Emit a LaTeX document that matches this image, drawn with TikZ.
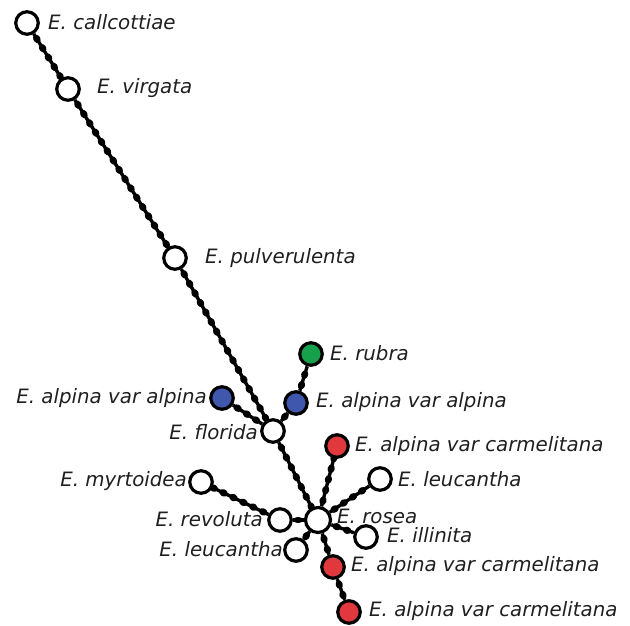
\documentclass[tikz,border=0pt]{standalone}
\usepackage{fontspec}
\setmainfont{DejaVu Sans}
\definecolor{hred}{HTML}{E0383C}
\definecolor{hblue}{HTML}{3F58AE}
\definecolor{hgreen}{HTML}{17A04C}
\begin{document}
\begin{tikzpicture}[x=1pt,y=-1pt,
  hap/.style={circle,draw=black,line width=3.2pt,fill=white,minimum size=22.5pt,inner sep=0pt},
  big/.style={hap,minimum size=25pt},
  lab/.style={font=\fontsize{19.8}{23}\selectfont\itshape,inner sep=0pt,text=black!88},
  link/.style={line width=3.4pt},
  beads/.style={line width=6.8pt,line cap=round,dash pattern=on 1.6pt off 9.4pt,dash phase=-5pt}]
\useasboundingbox (0,0) rectangle (630,625);
% haplotypes
\node[hap] (cal) at (27,23) {};
\node[hap] (vir) at (68,89) {};
\node[hap] (pul) at (175,258) {};
\node[hap,fill=hgreen] (rub) at (311,354) {};
\node[hap,fill=hblue] (alr) at (296,403) {};
\node[hap,fill=hblue] (all) at (222,398) {};
\node[hap] (flo) at (273,431) {};
\node[hap,fill=hred] (car1) at (337,446) {};
\node[hap] (leur) at (380,479) {};
\node[hap] (myr) at (201,482) {};
\node[hap] (rev) at (280,520) {};
\node[big] (ros) at (318,520) {};
\node[hap] (ill) at (366,537) {};
\node[hap] (leul) at (296,550) {};
\node[hap,fill=hred] (car2) at (333,567) {};
\node[hap,fill=hred] (car3) at (349,612) {};
% labels
\node[lab,anchor=west] (tcal) at (48,22) {E. callcottiae};
\node[lab,anchor=west] (tvir) at (97,88) {E. virgata};
\node[lab,anchor=west] (tpul) at (205,258) {E. pulverulenta};
\node[lab,anchor=west] (trub) at (330,353) {E. rubra};
\node[lab,anchor=west] (talr) at (316,402) {E. alpina var alpina};
\node[lab,anchor=east] (tall) at (207,398) {E. alpina var alpina};
\node[lab,anchor=east] (tflo) at (258,432) {E. florida};
\node[lab,anchor=west] (tcar1) at (355,446) {E. alpina var carmelitana};
\node[lab,anchor=west] (tleur) at (398,479) {E. leucantha};
\node[lab,anchor=east] (tmyr) at (187,481) {E. myrtoidea};
\node[lab,anchor=east] (trev) at (263,519) {E. revoluta};
\node[lab,anchor=west] (tros) at (337,516) {E. rosea};
\node[lab,anchor=west] (till) at (387,535) {E. illinita};
\node[lab,anchor=east] (tleul) at (283,549) {E. leucantha};
\node[lab,anchor=west] (tcar2) at (351,566) {E. alpina var carmelitana};
\node[lab,anchor=west] (tcar3) at (369,611) {E. alpina var carmelitana};
% connectors
\foreach \a/\b in {cal/vir,vir/pul,pul/flo,all/flo,flo/alr,alr/rub,flo/ros,ros/car1,ros/leur,ros/ill,ros/car2,car2/car3,ros/leul,ros/rev,rev/myr}{
  \draw[link] (\a) -- (\b);
  \draw[beads] (\a) -- (\b);
}
\end{tikzpicture}
\end{document}
